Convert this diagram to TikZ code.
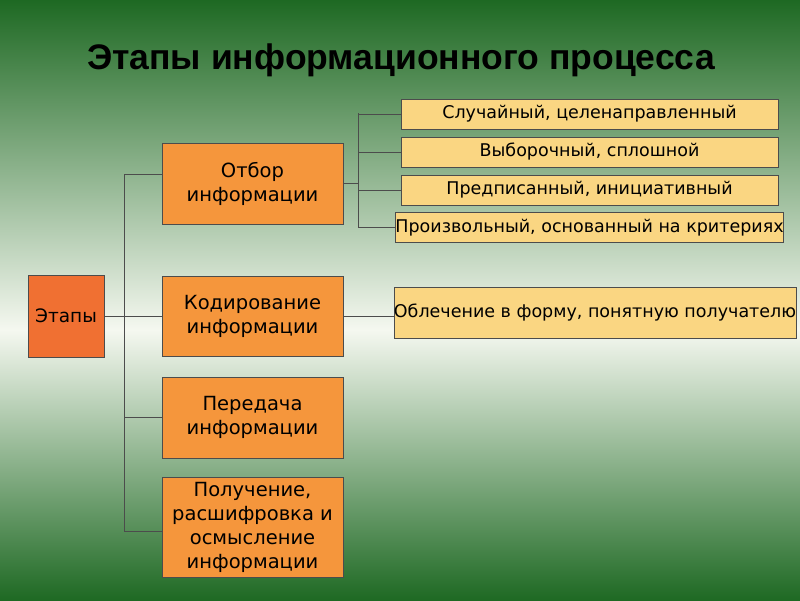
\documentclass[tikz,border=0pt]{standalone}
\usepackage{fontspec}
\setmainfont{DejaVu Sans}
\newfontfamily\titlefont{Liberation Sans}
\usepackage{tikz}
\usetikzlibrary{positioning}
\definecolor{bgtop}{RGB}{30,105,35}
\definecolor{bgmid}{RGB}{245,248,240}
\definecolor{stage}{RGB}{240,112,50}
\definecolor{step}{RGB}{245,150,60}
\definecolor{kind}{RGB}{250,214,130}
\tikzset{
  stagebox/.style={draw=black!70, fill=step, minimum width=181pt, align=center, font=\fontsize{19.5}{24}\selectfont, inner sep=0pt},
  kindbox/.style={draw=black!70, fill=kind, minimum width=377pt, minimum height=30pt, inner sep=0pt, font=\fontsize{17.5}{18}\selectfont},
  link/.style={draw=black!70, thin}
}
\begin{document}
\begin{tikzpicture}[x=1pt,y=-1pt]
\shade[top color=bgtop, bottom color=bgmid] (0,0) rectangle (800,330);
\shade[top color=bgmid, bottom color=bgtop] (0,330) rectangle (800,600);
\useasboundingbox (0,0) rectangle (800,600);
\node[font=\titlefont\bfseries\fontsize{35.5}{38}\selectfont] (title) at (401,60) {Этапы информационного процесса};
% stages
\node[draw=black!70, fill=stage, minimum width=76pt, minimum height=82pt, inner sep=0pt, font=\fontsize{18.5}{20}\selectfont] (st) at (66,316) {Этапы};
\node[stagebox, minimum height=81pt] (s1) at (252.5,183.5) {Отбор\\информации};
\node[stagebox, minimum height=80pt] (s2) at (252.5,316) {Кодирование\\информации};
\node[stagebox, minimum height=81pt] (s3) at (252.5,417.5) {Передача\\информации};
\node[stagebox, minimum height=100pt] (s4) at (252.5,527) {Получение,\\расшифровка и\\осмысление\\информации};
% kinds
\node[kindbox] (k1) at (589.5,114) {Случайный, целенаправленный};
\node[kindbox] (k2) at (589.5,152) {Выборочный, сплошной};
\node[kindbox] (k3) at (589.5,190) {Предписанный, инициативный};
\node[kindbox] (k4) at (589.5,227.5) {Произвольный, основанный на критериях};
\node[kindbox, minimum width=378pt, minimum height=51pt] (k5) at (595,312.5) {Облечение в форму, понятную получателю};
% links
\coordinate (t1) at (124,174);
\coordinate (t4) at (124,531);
\draw[link] (st.east) -- (st.east -| t1);
\draw[link] (t1) -- (t4);
\draw[link] (t1) -- (t1 -| s1.west);
\draw[link] (st.east -| t1) -- (s2.west);
\draw[link] (s3.west -| t1) -- (s3.west);
\draw[link] (t4) -- (t4 -| s4.west);
\coordinate (u1) at (358,113);
\coordinate (u4) at (358,228);
\draw[link] (s1.east) -- (s1.east -| u1);
\draw[link] (u1) -- (u4);
\foreach \k in {k1,k2,k3,k4}
  \draw[link] (\k.west -| u1) -- (\k.west);
\draw[link] (s2.east) -- (s2.east -| k5.west);
\end{tikzpicture}
\end{document}
